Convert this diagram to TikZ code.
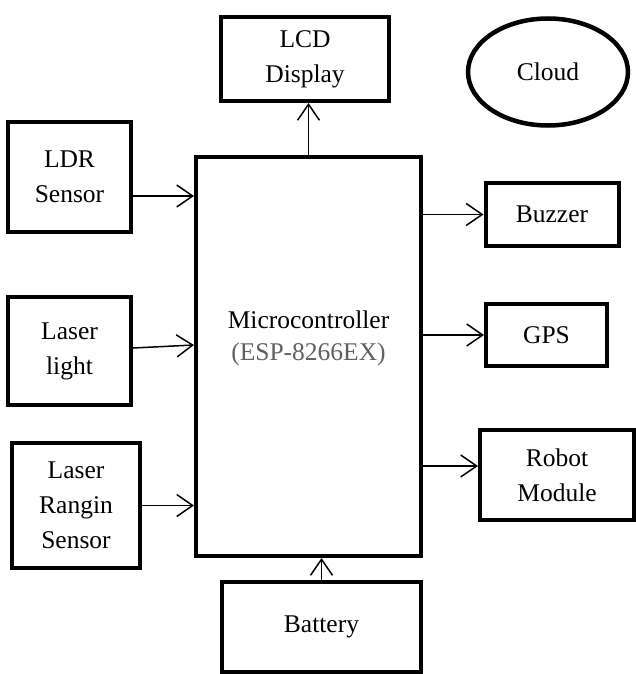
\documentclass[tikz,border=0pt]{standalone}
\usepackage{fontspec}
\setmainfont{Liberation Serif}
\usetikzlibrary{arrows.meta,shapes.geometric}
\definecolor{espgrey}{HTML}{606060}
\begin{document}
\begin{tikzpicture}[x=1pt,y=-1pt,
  blk/.style={draw,line width=4pt,inner sep=0pt,align=center,font=\fontsize{25.5}{35}\selectfont},
  arr/.style={line width=1.5pt,-{Straight Barb[length=16pt,width=22pt,line width=1.5pt]}}]
\useasboundingbox (0,0) rectangle (636,674);
\node[blk,minimum width=168pt,minimum height=84pt] (lcd) at (305,59) {LCD\\Display};
\node[blk,ellipse,line width=4.5pt,minimum width=160pt,minimum height=107pt] (cloud) at (548,72) {Cloud};
\node[blk,minimum width=123pt,minimum height=110pt] (ldr) at (69.5,177) {LDR\\Sensor};
\node[blk,minimum width=225pt,minimum height=399pt] (mc) at (308.5,356.5) {};
\node[align=center,font=\fontsize{25.5}{32}\selectfont,inner sep=0pt] (mctext) at (308.5,338) {Microcontroller\\\textcolor{espgrey}{(ESP-8266EX)}};
\node[blk,minimum width=123pt,minimum height=108pt] (ll) at (69.5,351) {Laser\\light};
\node[blk,minimum width=128pt,minimum height=125pt] (lr) at (76,505.5) {Laser\\Rangin\\Sensor};
\node[blk,minimum width=133pt,minimum height=63pt] (buz) at (552,214.5) {Buzzer};
\node[blk,minimum width=121pt,minimum height=62pt] (gps) at (546.5,335) {GPS};
\node[blk,minimum width=154pt,minimum height=90pt] (rob) at (557,475) {Robot\\Module};
\node[blk,minimum width=199pt,minimum height=90pt] (bat) at (321.5,627) {Battery};
\draw[arr] ([yshift=-19pt]ldr.east) -- ([yshift=-19pt]ldr.east -| mc.west);
\draw[arr] ([yshift=3pt]ll.east) -- ([yshift=6pt]ll.east -| mc.west);
\draw[arr] (lr.east) -- (lr.east -| mc.west);
\draw[arr] (mc.north) -- (mc.north |- lcd.south);
\draw[arr] (mc.east |- buz.west) -- (buz.west);
\draw[arr] (mc.east |- gps.west) -- (gps.west);
\draw[arr] ([yshift=9pt]rob.west -| mc.east) -- ([yshift=9pt]rob.west);
\draw[arr] (bat.north) -- (bat.north |- mc.south);
\end{tikzpicture}
\end{document}
